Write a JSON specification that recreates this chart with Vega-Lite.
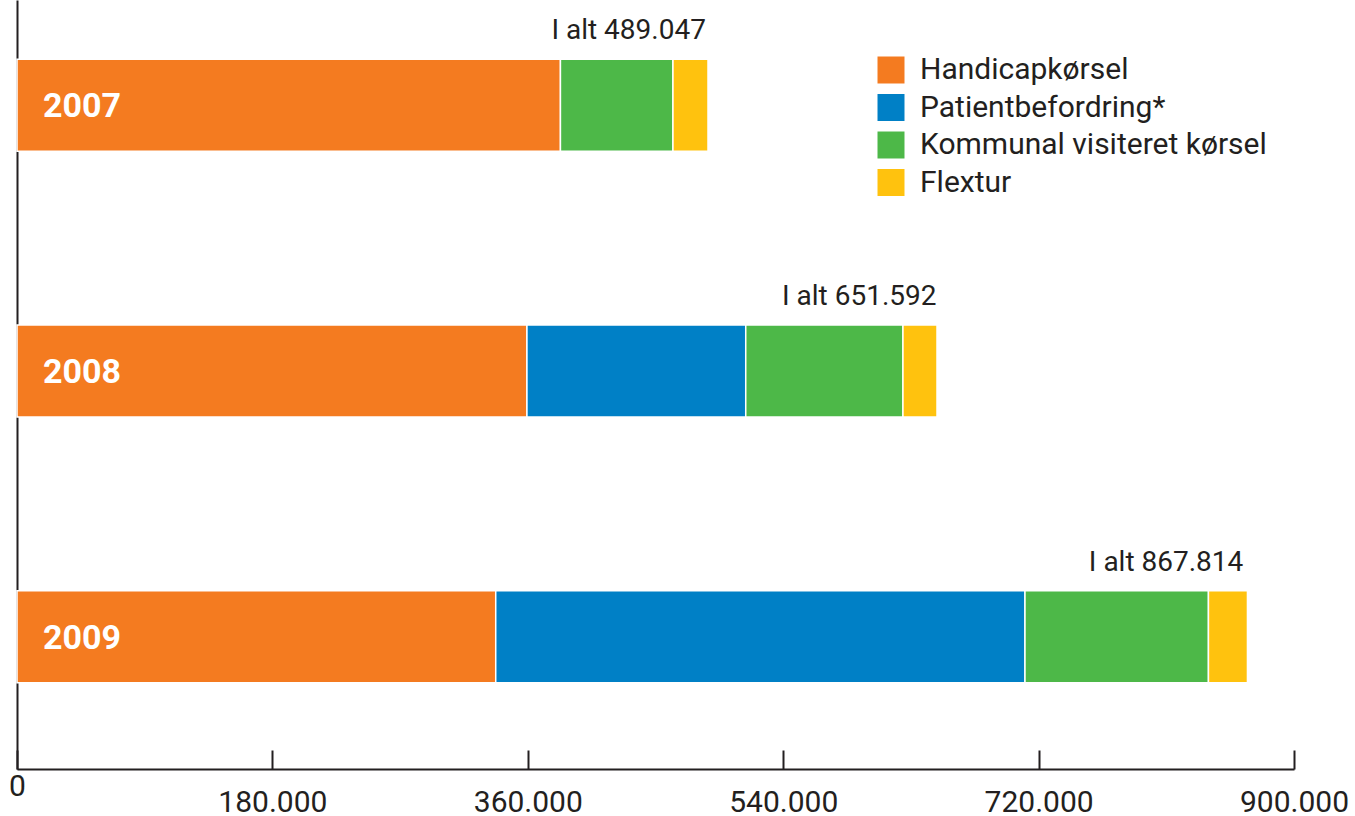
{
  "$schema": "https://vega.github.io/schema/vega-lite/v6.json",
  "width": 1277,
  "height": 769,
  "autosize": {"type": "none"},
  "padding": {"left": 17, "top": 0, "right": 61, "bottom": 47},
  "config": {
    "view": {"stroke": null},
    "font": "Roboto",
    "locale": {"number": {"decimal": ",", "thousands": ".", "grouping": [3], "currency": ["", ""]}}
  },
  "datasets": {
    "parts": [
      {"year": "2007", "category": "Handicapkørsel", "order": 1, "value": 383000},
      {"year": "2007", "category": "Kommunal visiteret kørsel", "order": 3, "value": 79300},
      {"year": "2007", "category": "Flextur", "order": 4, "value": 24700},
      {"year": "2008", "category": "Handicapkørsel", "order": 1, "value": 359400},
      {"year": "2008", "category": "Patientbefordring*", "order": 2, "value": 154200},
      {"year": "2008", "category": "Kommunal visiteret kørsel", "order": 3, "value": 110800},
      {"year": "2008", "category": "Flextur", "order": 4, "value": 24000},
      {"year": "2009", "category": "Handicapkørsel", "order": 1, "value": 337400},
      {"year": "2009", "category": "Patientbefordring*", "order": 2, "value": 373000},
      {"year": "2009", "category": "Kommunal visiteret kørsel", "order": 3, "value": 129300},
      {"year": "2009", "category": "Flextur", "order": 4, "value": 27500}
    ],
    "totals": [
      {"year": "2007", "total": 489047, "label": "I alt 489.047"},
      {"year": "2008", "total": 651592, "label": "I alt 651.592"},
      {"year": "2009", "total": 867814, "label": "I alt 867.814"}
    ]
  },
  "layer": [
    {
      "data": {"name": "parts"},
      "mark": {"type": "bar", "stroke": "white", "strokeWidth": 1.5},
      "encoding": {
        "y": {
          "field": "year", "type": "nominal",
          "scale": {"paddingInner": 0.654, "paddingOuter": 0.274, "align": 0.407},
          "axis": {"title": null, "labels": false, "ticks": false, "domainColor": "#231f20", "domainWidth": 2, "grid": false}
        },
        "x": {
          "field": "value", "type": "quantitative", "stack": "zero",
          "scale": {"domain": [0, 900000], "nice": false},
          "axis": {
            "title": null,
            "values": [0, 180000, 360000, 540000, 720000, 900000],
            "format": ",d",
            "grid": false,
            "tickSize": -19,
            "tickWidth": 2,
            "tickColor": "#231f20",
            "domainColor": "#231f20",
            "domainWidth": 2,
            "labelFontSize": 30,
            "labelColor": "#231f20",
            "labelFlush": false,
            "labelOverlap": false,
            "labelPadding": {"condition": {"test": "datum.value === 0", "value": 21}, "value": 37}
          }
        },
        "color": {
          "field": "category", "type": "nominal",
          "scale": {
            "domain": ["Handicapkørsel", "Patientbefordring*", "Kommunal visiteret kørsel", "Flextur"],
            "range": ["#F47B20", "#0080C6", "#4DB848", "#FFC20E"]
          },
          "legend": {
            "title": null,
            "orient": "none",
            "legendX": 859,
            "legendY": 55,
            "symbolType": "square",
            "symbolSize": 729,
            "symbolStrokeWidth": 0,
            "symbolOpacity": 1,
            "labelFontSize": 30,
            "labelColor": "#231f20",
            "labelOffset": 14,
            "rowPadding": 7.5,
            "padding": 0,
            "labelLimit": 500
          }
        },
        "order": {"field": "order", "type": "quantitative"}
      }
    },
    {
      "data": {"name": "totals"},
      "mark": {"type": "text", "align": "right", "baseline": "alphabetic", "dy": -66, "dx": -5, "fontSize": 28, "color": "#231f20"},
      "encoding": {
        "x": {"field": "total", "type": "quantitative"},
        "y": {"field": "year", "type": "nominal"},
        "text": {"field": "label"}
      }
    },
    {
      "data": {"name": "totals"},
      "mark": {"type": "text", "align": "left", "baseline": "middle", "dx": 26, "dy": 2, "fontSize": 34, "fontWeight": "bold", "color": "white"},
      "encoding": {
        "x": {"datum": 0, "type": "quantitative"},
        "y": {"field": "year", "type": "nominal"},
        "text": {"field": "year"}
      }
    }
  ]
}
